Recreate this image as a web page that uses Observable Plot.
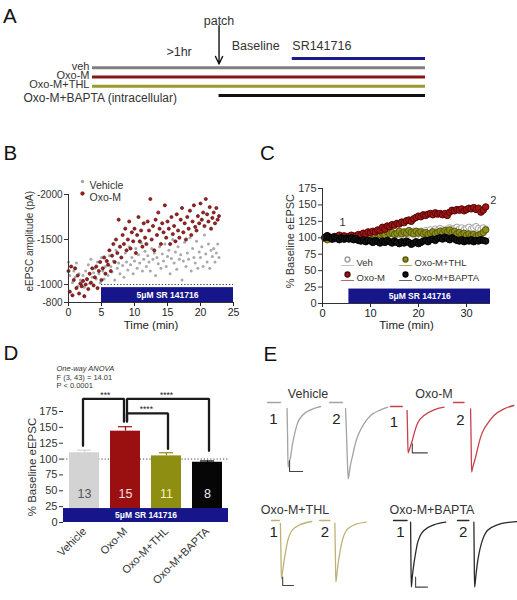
<!DOCTYPE html>
<html><head><meta charset="utf-8">
<script src="https://cdn.jsdelivr.net/npm/d3@7"></script>
<script src="https://cdn.jsdelivr.net/npm/@observablehq/plot@0.6"></script>
<style>
body{margin:0;background:#fff;}
#fig{position:relative;width:517px;height:600px;overflow:hidden;font-family:"Liberation Sans",Arial,sans-serif;color:#222;background:#fff;}
.pl{position:absolute;}
.letter{position:absolute;font-size:20.5px;line-height:1;color:#111;}
.cond{position:absolute;font-size:12.5px;line-height:1;color:#333;transform:translate(-50%,-50%);white-space:nowrap;}
</style></head><body><div id="fig"></div>
<script>
// ---------------- DATA ----------------
// Panel A: protocol timeline (arbitrary timeline units)
const schedRows = ["SR141716", "veh", "Oxo-M", "Oxo-M+THL", "Oxo-M+BAPTA (intracellular)"];
const schedStart = [60, 0, 0, 0, 38];
const schedEnd = [100, 100, 100, 100, 100];
const schedColor = ["#1b1b8a", "#7f7f7f", "#8a1515", "#9c9a2c", "#111111"];
const annText = ["patch", ">1hr", "Baseline", "SR141716"];
const annX = [38, 26, 49, 60];
const annRow = [-4.1, -0.65, -1.4, -1.4];
const annAnchor = ["middle", "middle", "middle", "start"];
const patchX = 38;
const arrowRows = [-3.55, 0.6];

// Panel B: single-cell eEPSC amplitude (pA), one sweep every 0.2 min
const bStep = 0.2;
const bOxo = [-1150,-920,-1200,-880,-1050,-1180,-960,-1100,-900,-1010,
  -980,-1040,-870,-1000,-1060,-950,-1120,-1020,-1180,-990,
  -1080,-1200,-960,-1150,-1250,-1050,-1180,-1300,-1120,-1260,
  -1220,-1380,-1150,-1320,-1450,-1250,-1500,-1350,-1720,-1420,
  -1300,-1550,-1450,-1620,-1380,-1500,-1700,-1400,-1580,-1480,
  -1620,-1350,-1550,-1750,-1480,-1600,-1420,-1680,-1520,-1450,
  -1700,-1600,-1950,-1500,-1650,-1380,-1720,-1550,-1800,-1620,
  -1450,-1680,-1580,-1880,-1520,-1700,-1620,-1450,-1750,-1560,
  -1650,-1480,-1780,-1600,-1520,-1720,-1850,-1580,-1680,-1500,
  -1750,-1620,-1820,-1550,-1700,-1880,-1640,-1600,-1760,-1680,
  -1900,-1720,-1800,-1650,-1950,-1780,-1700,-1860,-1620,-1740,
  -1800,-1680,-1850,-1720,-1760];
const bVeh = [-1250,-1100,-1200,-1020,-1150,-1080,-1240,-980,-1120,-1050,
  -1000,-1100,-970,-1150,-1050,-1220,-1010,-1280,-1080,-1130,
  -1180,-1060,-1250,-1120,-1020,-1300,-1150,-1060,-1200,-1270,
  -1100,-1320,-1200,-1140,-1260,-1050,-1380,-1180,-1240,-1120,
  -1300,-1210,-1080,-1350,-1250,-1160,-1420,-1220,-1300,-1120,
  -1260,-1400,-1180,-1330,-1240,-1460,-1150,-1280,-1370,-1200,
  -1320,-1250,-1150,-1400,-1280,-1350,-1100,-1300,-1230,-1420,
  -1180,-1340,-1260,-1450,-1200,-1310,-1380,-1120,-1290,-1500,
  -1240,-1360,-1170,-1420,-1280,-1330,-1050,-1260,-1470,-1200,
  -1350,-1280,-1520,-1150,-1400,-1300,-1240,-1480,-1180,-1360,
  -1300,-1420,-1200,-1550,-1340,-1250,-1450,-1180,-1380,-1310,
  -1400,-1250,-1350,-1450,-1300];
const bTicksY = [-2000, -1500, -1000, -800];
const bTicksX = [0, 5, 10, 15, 20, 25];
const bSR = [5, 25];
const srLabel = "5\u03BCM SR 141716";

// Panel C: % baseline eEPSC, one point every 0.5 min starting at 0.5 min
const cStep = 0.5;
const cVeh = [100,102,99,101,98,100,101,99,100,102, 101,99,103,100,102,104,101,103,100,102,
  104,102,105,103,106,104,107,105,103,106, 105,108,104,107,109,106,108,110,107,109,
  110,108,111,109,112,110,113,111,114,112, 110,113,115,112,114,116,113,115,112,114,
  116,113,115,117,114,112,115,113];
const cOxo = [100,103,101,99,102,100,104,101,103,100, 102,104,101,103,105,104,107,106,109,108,
  110,109,112,111,116,113,118,117,120,119, 122,121,124,123,126,127,125,129,131,133,
  132,135,134,136,137,135,138,136,137,135, 137,134,139,142,141,143,142,144,141,143,
  145,144,146,143,145,139,142,147];
const cThl = [99,97,101,98,100,102,99,101,98,100, 101,99,102,100,103,101,104,102,105,104,
  106,103,108,105,107,104,109,106,108,105, 107,110,106,109,107,111,108,106,110,107,
  109,106,108,105,107,109,106,108,110,107, 111,109,112,108,110,106,108,105,107,104,
  106,103,105,102,104,106,108,112];
const cBapta = [101,103,100,98,101,99,97,100,98,99, 98,100,97,99,96,95,97,94,96,95,
  93,96,94,92,95,93,96,94,92,95, 93,91,94,92,95,93,90,92,94,91,
  93,95,96,94,97,98,96,99,100,98, 101,99,97,100,98,96,95,97,94,96,
  95,97,94,96,95,97,96,95];
const cSR = [5.5, 35];
const cNames = ["Veh", "Oxo-M+THL", "Oxo-M", "Oxo-M+BAPTA"];
const cMarkLabels = ["1", "2"];
const cMarkT = [4.2, 35.6];
const cMarkY = [123, 157];

// Panel D: summary bars
const dGroups = ["Vehicle", "Oxo-M", "Oxo-M+THL", "Oxo-M+BAPTA"];
const dMean = [110, 144, 105, 95];
const dSem = [4, 7, 5, 2];
const dN = [13, 15, 11, 8];
const cmpFrom = ["Vehicle", "Oxo-M", "Oxo-M"];
const cmpTo = ["Oxo-M", "Oxo-M+BAPTA", "Oxo-M+THL"];
const cmpTop = [195, 195, 172];
const cmpFromLeg = [121, 159, 160];
const cmpToLeg = [159, 113, 116];
const cmpStars = ["***", "****", "****"];
const anova = ["One-way ANOVA", "F (3, 43) = 14.01", "P < 0.0001"];

// Panel E: example traces [time (ms), current (pA)]
const vehBase = [[0, 13, 0], [0, 13, 0]];
const vehTr1 = [[19.5,-90],[20,-500],[20.5,-970],[21.5,-900],[23,-820],[24.5,-660],[26.3,-520],[28,-410],[29.7,-320],[34.7,-195],[43,-110],[53,-60]];
const vehTr2 = [[16,-90],[17,-500],[18,-950],[18.7,-1145],[19.8,-1050],[21,-930],[22.7,-820],[25,-660],[27.7,-520],[31,-410],[34.3,-320],[41,-195],[51,-110],[58,-70]];
const vehBar = [[22,-870],[22,-1035],[35,-1035]];
const oxoBase = [[0, 11.7, -60], [0, 10.5, 0]];
const oxoTr1 = [[16.5,-120],[17,-450],[17.5,-755],[18.5,-720],[20,-650],[21.7,-570],[24,-440],[26.7,-320],[29.5,-250],[33.3,-195],[43.3,-110],[53.3,-70]];
const oxoTr2 = [[17,-95],[17.5,-550],[18,-1045],[19,-980],[20.5,-900],[22,-820],[24.5,-660],[27,-520],[30,-410],[33.7,-320],[40.3,-195],[50.3,-95],[60,-45]];
const oxoBar = [[21.7,-620],[21.7,-755],[36.7,-755]];
const thlBase = [[1, 9, 0], [0, 10.5, 0]];
const thlTr1 = [[10,-45],[10.5,-450],[11,-875],[12,-780],[13.3,-650],[15,-490],[16.7,-350],[19,-230],[21.7,-150],[28.3,-75],[41.7,-15]];
const thlTr2 = [[15.5,-40],[16,-450],[16.5,-925],[17.5,-820],[18.8,-650],[20.5,-490],[22.2,-350],[24.5,-230],[27.2,-150],[33.8,-75],[47.2,-25]];
const thlBar = [[12.3,-850],[12.3,-975],[23.3,-975]];
const bapBase = [[0, 13.5, 0], [0, 11.3, 0]];
const bapTr1 = [[17,-25],[17.3,-500],[17.7,-1000],[18.8,-830],[20.3,-650],[22,-490],[23.7,-350],[26.5,-230],[30.3,-150],[40.3,-65],[52,-25]];
const bapTr2 = [[16.3,-25],[16.6,-500],[17,-1000],[18.3,-830],[19.7,-650],[21.5,-490],[23.7,-350],[26.5,-230],[29.7,-150],[39.7,-65],[53,-25],[59.7,-15]];
const bapBar = [[22,-850],[22,-1000],[33.7,-1000]];
const eLabT = [[6, 7], [3.3, 7], [3.3, 5.5], [7, 5.7]];
const eLabI = [[-255, -255], [-295, -270], [-180, -180], [-175, -175]];

// ---------------- STYLE / LAYOUT ----------------
const FONT = "Liberation Sans, Arial, Helvetica, sans-serif";
const STYLE = `font-family:${FONT};font-size:10px;color:#222;background:transparent;overflow:visible;max-width:none;`;
const NAVY = "#16168a";
const fig = document.getElementById("fig");
function place(node, left, top) {
  const d = document.createElement("div");
  d.className = "pl"; d.style.left = left + "px"; d.style.top = top + "px";
  d.appendChild(node); fig.appendChild(d);
}
function html(cls, text, left, top) {
  const d = document.createElement("div");
  d.className = cls; d.textContent = text;
  d.style.left = left + "px"; d.style.top = top + "px";
  fig.appendChild(d);
}

// ---------------- PANEL A ----------------
const schedData = schedRows.map((r, i) => ({row: r, i, x1: schedStart[i], x2: schedEnd[i], color: schedColor[i]}));
const annData = annText.map((t, i) => ({t, x: annX[i], y: annRow[i], a: annAnchor[i]}));
place(Plot.plot({
  width: 517, height: 110, marginLeft: 92, marginRight: 92, marginTop: 0, marginBottom: 0,
  style: STYLE,
  x: {domain: [0, 100], axis: null},
  y: {domain: [0, 4], range: [58, 95], axis: null},
  color: {type: "identity"},
  marks: [
    Plot.ruleY(schedData, {y: "i", x1: "x1", x2: "x2", stroke: "color", strokeWidth: 3}),
    Plot.text(schedData.slice(1, 4), {x: 0, y: "i", text: "row", textAnchor: "end", dx: -3, dy: -1.5, fontSize: 11, fill: "#333"}),
    Plot.text(schedData.slice(4), {x: 0, y: "i", text: "row", textAnchor: "start", dx: -69, dy: 3, fontSize: 12, fill: "#333"}),
    Plot.arrow([{x: patchX, y1: arrowRows[0], y2: arrowRows[1]}], {x1: "x", x2: "x", y1: "y1", y2: "y2", stroke: "#111", strokeWidth: 1.4, headLength: 9, headAngle: 50}),
    Plot.text(annData.filter(d => d.a === "middle"), {x: "x", y: "y", text: "t", textAnchor: "middle", fontSize: 12.5, fill: "#333"}),
    Plot.text(annData.filter(d => d.a === "start"), {x: "x", y: "y", text: "t", textAnchor: "start", fontSize: 12.5, fill: "#333"})
  ]
}), 0, 0);

// ---------------- PANEL B ----------------
const bVehData = bVeh.map((v, i) => ({t: i * bStep, v}));
const bOxoData = bOxo.map((v, i) => ({t: i * bStep, v}));
place(Plot.plot({
  width: 250, height: 165, marginLeft: 68, marginRight: 17, marginTop: 24, marginBottom: 33,
  style: STYLE,
  x: {domain: [0, 25]},
  y: {domain: [-800, -2000]},
  marks: [
    Plot.ruleY([-1000], {x1: bSR[0], x2: bSR[1], stroke: "#333", strokeDasharray: "1.2 2"}),
    Plot.dot(bVehData, {x: "t", y: "v", r: 1.5, fill: "#a9a9a9"}),
    Plot.dot(bOxoData, {x: "t", y: "v", r: 1.6, fill: "#b01c1c", stroke: "#3a0808", strokeWidth: 0.6}),
    Plot.rect([{x1: bSR[0], x2: bSR[1]}], {x1: "x1", x2: "x2", y1: -800, y2: -965, fill: NAVY}),
    Plot.text([srLabel], {x: (bSR[0] + bSR[1]) / 2, y: -882, text: d => d, fill: "white", fontWeight: "bold", fontSize: 8.5}),
    Plot.ruleX([0], {stroke: "#333"}),
    Plot.ruleY([-800], {stroke: "#333"}),
    Plot.axisY({ticks: bTicksY, tickFormat: d => String(d), tickSize: 4, tickPadding: 2, label: null, fontSize: 10, color: "#333"}),
    Plot.axisX({ticks: bTicksX, tickSize: 4, tickPadding: 2, label: null, fontSize: 10.5}),
    Plot.dot(["Vehicle"], {frameAnchor: "top-left", dx: 14, dy: -13, r: 1.8, fill: "#a9a9a9"}),
    Plot.dot(["Oxo-M"], {frameAnchor: "top-left", dx: 14, dy: -1, r: 1.8, fill: "#b01c1c", stroke: "#3a0808", strokeWidth: 0.6}),
    Plot.text(["Vehicle"], {frameAnchor: "top-left", dx: 21, dy: -13, text: d => d, textAnchor: "start", fontSize: 10.5, fill: "#333"}),
    Plot.text(["Oxo-M"], {frameAnchor: "top-left", dx: 21, dy: -1, text: d => d, textAnchor: "start", fontSize: 10.5, fill: "#333"}),
    Plot.text(["eEPSC amplitude (pA)"], {frameAnchor: "left", y: () => -1480, rotate: -90, textAnchor: "middle", dx: -39, text: d => d, fontSize: 10, fill: "#333"}),
    Plot.text(["Time (min)"], {frameAnchor: "bottom", dy: 26, text: d => d, fontSize: 11.5, fill: "#222"})
  ]
}), 0, 170);

// ---------------- PANEL C ----------------
const toC = arr => arr.map((v, i) => ({t: (i + 1) * cStep, v}));
const cSeries = [
  {data: toC(cVeh), line: "#9a9a9a", fill: "#ffffff", stroke: "#a0a0a0"},
  {data: toC(cThl), line: "#7a7a10", fill: "#8f8f1c", stroke: "#5a5a0a"},
  {data: toC(cOxo), line: "#7a0a0a", fill: "#a51414", stroke: "#500606"},
  {data: toC(cBapta), line: "#000", fill: "#141414", stroke: "#000"}
];
const cLegDx = [25, 83, 25, 83], cLegDy = [71, 71, 86, 86];
const cMarks = [
  Plot.ruleY([100], {stroke: "#999", strokeDasharray: "1.2 2"}),
  ...cSeries.flatMap(s => [
    Plot.line(s.data, {x: "t", y: "v", stroke: s.line, strokeWidth: 1}),
    Plot.dot(s.data, {x: "t", y: "v", r: 3.2, fill: s.fill, stroke: s.stroke, strokeWidth: 1})
  ]),
  Plot.rect([{x1: cSR[0], x2: cSR[1]}], {x1: "x1", x2: "x2", y1: 0, y2: 22, fill: NAVY}),
  Plot.text([srLabel], {x: (cSR[0] + cSR[1]) / 2, y: 11, text: d => d, fill: "white", fontWeight: "bold", fontSize: 8.5}),
  Plot.ruleX([0], {stroke: "#333"}),
  Plot.ruleY([0], {stroke: "#333"}),
  Plot.axisY({ticks: d3.range(0, 176, 25), tickSize: 4, tickPadding: 2, label: null, fontSize: 11, color: "#333"}),
  Plot.axisX({ticks: [0, 10, 20, 30], tickSize: 4, tickPadding: 2, label: null, fontSize: 11}),
  Plot.text(cMarkLabels.map((l, i) => ({l, t: cMarkT[i], y: cMarkY[i]})), {x: "t", y: "y", text: "l", fontSize: 11, fill: "#333"}),
  Plot.text(["% Baseline eEPSC"], {frameAnchor: "left", y: () => 95, rotate: -90, textAnchor: "middle", dx: -32, text: d => d, fontSize: 11, fill: "#333"}),
  Plot.text(["Time (min)"], {frameAnchor: "bottom", dy: 25, text: d => d, fontSize: 11.5, fill: "#222"})
];
cNames.forEach((name, i) => {
  const s = cSeries[i];
  cMarks.push(Plot.text(["\u2014"], {frameAnchor: "top-left", dx: cLegDx[i], dy: cLegDy[i], textAnchor: "middle", text: d => d, fill: s.line, fillOpacity: 0.6, fontSize: 13}));
  cMarks.push(Plot.dot([name], {frameAnchor: "top-left", dx: cLegDx[i], dy: cLegDy[i], r: 2.4, fill: s.fill, stroke: s.stroke}));
  cMarks.push(Plot.text([name], {frameAnchor: "top-left", dx: cLegDx[i] + 9, dy: cLegDy[i], text: d => d, textAnchor: "start", fontSize: 9.5, fill: "#333"}));
});
place(Plot.plot({
  width: 257, height: 165, marginLeft: 62, marginRight: 27, marginTop: 13, marginBottom: 37,
  style: STYLE,
  x: {domain: [0, 35]},
  y: {domain: [0, 175]},
  marks: cMarks
}), 260, 175);

// ---------------- PANEL D ----------------
const dColor = ["#d3d3d3", "#9a1010", "#8e8e12", "#060606"];
const dTextColor = ["#555555", "#f6e0e0", "#f3f3b8", "#eeeeee"];
const dData = dGroups.map((g, i) => ({g, v: dMean[i], e: dSem[i], n: String(dN[i]), c: dColor[i], tc: dTextColor[i]}));
const STEP_D = 41.67;
const bracketDx = [-1.5, 1.5, 1.5];
const starDx = [STEP_D / 2, 0, STEP_D / 2];
const starX = ["Vehicle", "Oxo-M+THL", "Oxo-M"];
const dMarks = [
  Plot.ruleY([100], {stroke: "#444", strokeDasharray: "1.2 2"}),
  Plot.barY(dData, {x: "g", y: "v", fill: "c"}),
  Plot.ruleX(dData, {x: "g", y1: "v", y2: d => d.v + d.e, stroke: "c", strokeWidth: 1.2}),
  Plot.tickY(dData, {x: "g", y: d => d.v + d.e, stroke: "c", strokeWidth: 1.2, inset: 8}),
  Plot.text(dData, {x: "g", y: 45, text: "n", fill: "tc", fontSize: 12.5}),
  Plot.rect([{}], {y1: 0, y2: 22, fill: NAVY}),
  Plot.text([srLabel], {y: 11, text: d => d, fill: "white", fontWeight: "bold", fontSize: 8.5}),
  Plot.axisY({ticks: d3.range(0, 176, 25), tickSize: 4, tickPadding: 2, label: null, fontSize: 11, color: "#333"}),
  Plot.axisX({tickRotate: -45, tickSize: 0, tickPadding: 7, label: null, fontSize: 11, color: "#333"}),
  Plot.text(["% Baseline eEPSC"], {frameAnchor: "left", y: () => 87.5, rotate: -90, textAnchor: "middle", dx: -31, text: d => d, fontSize: 11.5, fill: "#333"}),
  Plot.text([anova[0]], {frameAnchor: "top-left", dx: -7, dy: -46, text: d => d, textAnchor: "start", fontSize: 7.5, fontStyle: "italic", fill: "#333"}),
  Plot.text([anova[1]], {frameAnchor: "top-left", dx: -7, dy: -37, text: d => d, textAnchor: "start", fontSize: 7.5, fill: "#333"}),
  Plot.text([anova[2]], {frameAnchor: "top-left", dx: -7, dy: -28.5, text: d => d, textAnchor: "start", fontSize: 7.5, fill: "#333"})
];
cmpFrom.forEach((f, i) => {
  const pts = [{g: f, y: cmpFromLeg[i]}, {g: f, y: cmpTop[i]}, {g: cmpTo[i], y: cmpTop[i]}, {g: cmpTo[i], y: cmpToLeg[i]}];
  dMarks.push(Plot.line(pts, {x: "g", y: "y", stroke: "#1a1a1a", strokeWidth: 2.3, dx: bracketDx[i], strokeLinejoin: "miter"}));
  dMarks.push(Plot.text([cmpStars[i]], {x: () => starX[i], y: cmpTop[i], text: d => d, dx: starDx[i], dy: -4, fontSize: 8.5, fill: "#222"}));
});
place(Plot.plot({
  width: 260, height: 260, marginLeft: 63, marginRight: 32, marginTop: 71, marginBottom: 78,
  style: STYLE,
  x: {domain: dGroups, paddingInner: 0.28, paddingOuter: 0.12},
  y: {domain: [0, 175]},
  color: {type: "identity"},
  marks: dMarks
}), 0, 340);

// ---------------- PANEL E ----------------
const eConds = [
  {name: "Vehicle", left: 262, top: 385, width: 128, baseY: 17, dom: 60.8, col: "#a3a3a3", base: vehBase, tr: [vehTr1, vehTr2], bar: vehBar, lx: 308, ly: 394},
  {name: "Oxo-M", left: 385, top: 385, width: 130, baseY: 17, dom: 61.7, col: "#c8404c", base: oxoBase, tr: [oxoTr1, oxoTr2], bar: oxoBar, lx: 434, ly: 394},
  {name: "Oxo-M+THL", left: 265, top: 500, width: 103, baseY: 20, dom: 48.5, col: "#bfb277", base: thlBase, tr: [thlTr1, thlTr2], bar: thlBar, lx: 295, ly: 510},
  {name: "Oxo-M+BAPTA", left: 388, top: 500, width: 132, baseY: 20, dom: 62.7, col: "#2a2a2a", base: bapBase, tr: [bapTr1, bapTr2], bar: bapBar, lx: 432, ly: 510}
];
eConds.forEach((c, ci) => {
  const rows = [];
  ["1", "2"].forEach((k, j) => {
    rows.push({f: k, s: "b" + k, t: c.base[j][0], I: c.base[j][2]});
    rows.push({f: k, s: "b" + k, t: c.base[j][1], I: c.base[j][2]});
    c.tr[j].forEach(p => rows.push({f: k, s: "t" + k, t: p[0], I: p[1]}));
  });
  const bar = c.bar.map(p => ({f: "1", t: p[0], I: p[1]}));
  const labs = ["1", "2"].map((k, j) => ({f: k, t: eLabT[ci][j], I: eLabI[ci][j]}));
  place(Plot.plot({
    width: c.width, height: 100, marginLeft: 5, marginRight: 0, marginTop: 0, marginBottom: 0,
    style: STYLE,
    fx: {domain: ["1", "2"], paddingInner: 0.02, paddingOuter: 0, axis: null},
    x: {domain: [0, c.dom], axis: null},
    y: {domain: [-1300, 100], range: [c.baseY + 1300 / 15, c.baseY - 100 / 15], axis: null},
    marks: [
      Plot.line(rows, {fx: "f", x: "t", y: "I", z: "s", stroke: c.col, strokeWidth: 1.3, curve: "monotone-x"}),
      Plot.line(bar, {fx: "f", x: "t", y: "I", stroke: "#444", strokeWidth: 1.1}),
      Plot.text(labs, {fx: "f", x: "t", y: "I", text: "f", fontSize: 15, fill: "#222"})
    ]
  }), c.left, c.top);
  html("cond", c.name, c.lx, c.ly);
});

// Panel letters
[["A", 3, 5.6], ["B", 3.5, 142.6], ["C", 260, 142.6], ["D", 3.5, 342.6], ["E", 263.5, 343.6]].forEach(([t, x, y]) => html("letter", t, x, y));
</script></body></html>
